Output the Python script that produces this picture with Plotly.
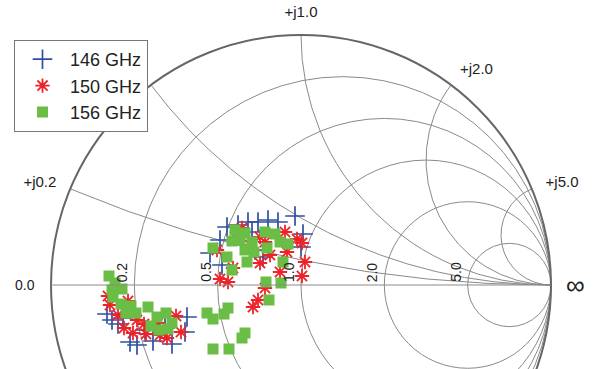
import numpy as np
import plotly.graph_objects as go

# Reflection coefficient readings (real, imag) for each frequency
g146_re = [-0.776, -0.756, -0.732, -0.712, -0.684, -0.656, -0.592, -0.516, -0.464, -0.456, -0.624, -0.544,
           -0.364, -0.324, -0.296, -0.252, -0.212, -0.172, -0.132, -0.092, -0.024, 0.008, -0.152, -0.196,
           0.000, -0.316, -0.184]
g146_im = [-0.116, -0.140, -0.156, -0.132, -0.228, -0.240, -0.224, -0.236, -0.188, -0.128, -0.180, -0.172,
           0.128, 0.180, 0.232, 0.240, 0.252, 0.252, 0.260, 0.252, 0.276, 0.204, 0.112, 0.212,
           0.152, 0.080, 0.140]

g150_re = [-0.772, -0.764, -0.692, -0.708, -0.672, -0.628, -0.620, -0.572, -0.536, -0.500, -0.480, -0.732,
           -0.656, -0.564,
           -0.324, -0.292, -0.336, -0.264, -0.164, -0.164, -0.144, -0.172, -0.192, -0.084, -0.056, -0.064,
           -0.016, 0.004, 0.016, 0.004, -0.272, -0.144, -0.204, -0.236, -0.124]
g150_im = [-0.044, -0.080, -0.064, -0.172, -0.192, -0.156, -0.196, -0.152, -0.212, -0.124, -0.188, -0.120,
           -0.140, -0.200,
           0.024, 0.012, 0.140, 0.192, 0.192, 0.088, -0.012, -0.060, -0.088, 0.052, 0.132, 0.212,
           0.184, 0.168, 0.092, 0.036, 0.068, 0.172, 0.160, 0.228, 0.120]

g156_re = [-0.768, -0.744, -0.716, -0.752, -0.720, -0.680, -0.660, -0.700, -0.612, -0.576, -0.540, -0.516,
           -0.600, -0.568, -0.532, -0.756,
           -0.376, -0.352, -0.308, -0.292, -0.224, -0.236, -0.352, -0.288,
           -0.352, -0.296, -0.276, -0.264, -0.276, -0.224, -0.196, -0.224, -0.216, -0.188, -0.144, -0.104,
           -0.136, -0.084, -0.052, -0.072, -0.140, -0.080, -0.128, -0.244]
g156_im = [0.036, 0.008, -0.016, -0.048, -0.076, -0.084, -0.112, -0.112, -0.088, -0.128, -0.112, -0.152,
           -0.164, -0.180, -0.176, -0.020,
           -0.112, -0.136, -0.116, -0.092, -0.192, -0.212, -0.256, -0.256,
           0.148, 0.112, 0.060, 0.220, 0.176, 0.208, 0.172, 0.140, 0.092, 0.132, 0.212, 0.204,
           0.148, 0.172, 0.164, 0.092, 0.012, 0.008, -0.060, 0.180]

series_names = ["146 GHz", "150 GHz", "156 GHz"]
grid_vals = [0.2, 0.5, 1.0, 2.0, 5.0]
real_labels = ["0.2", "0.5", "1.0", "2.0", "5.0"]
left_label = "0.0"

TEXT = "#222222"
GRID = "#8a8a8a"


def to_z(re, im):
    g = np.array(re) + 1j * np.array(im)
    z = (1 + g) / (1 - g)
    return z.real, z.imag


fig = go.Figure()
r, x = to_z(g146_re, g146_im)
fig.add_trace(go.Scattersmith(real=r, imag=x, mode="markers", name=series_names[0],
                              marker=dict(symbol="cross-thin", size=14, color="#2f4fa0",
                                          line=dict(width=1.7, color="#2f4fa0"))))
r, x = to_z(g150_re, g150_im)
fig.add_trace(go.Scattersmith(real=r, imag=x, mode="markers", name=series_names[1],
                              marker=dict(symbol="asterisk-open", size=12, color="#ee2229",
                                          line=dict(width=1.8, color="#ee2229"))))
r, x = to_z(g156_re, g156_im)
fig.add_trace(go.Scattersmith(real=r, imag=x, mode="markers", name=series_names[2],
                              marker=dict(symbol="square", size=11, color="#6abd45",
                                          line=dict(width=0))))

# resistance-circle labels, placed just left of each circle's crossing on the real axis
annotations = []
for val, lab in zip(grid_vals, real_labels):
    gx = (val - 1) / (val + 1)
    annotations.append(dict(x=0.5 + gx / 2, y=0.5, xref="paper", yref="paper", text=lab,
                            showarrow=False, textangle=-90, xanchor="right", yanchor="bottom",
                            xshift=-2, yshift=1, font=dict(size=14, color=TEXT)))
annotations.append(dict(x=0, y=0.5, xref="paper", yref="paper", text=left_label, showarrow=False,
                        xanchor="right", yanchor="middle", xshift=-14, font=dict(size=14, color=TEXT)))

fig.update_layout(
    width=602, height=570,
    margin=dict(l=51, r=51, t=35, b=35),
    paper_bgcolor="white",
    font=dict(family="Liberation Sans, Arial, sans-serif", color=TEXT, size=14),
    smith=dict(
        domain=dict(x=[0, 1], y=[0, 1]),
        bgcolor="white",
        realaxis=dict(tickvals=grid_vals, showticklabels=False, showgrid=True, gridcolor=GRID,
                      gridwidth=1, showline=True, linecolor=GRID, ticks=""),
        imaginaryaxis=dict(tickvals=grid_vals, tickformat=".1f", tickprefix="+j", showgrid=True,
                           gridcolor=GRID, gridwidth=1, showline=True, linecolor="#666666",
                           linewidth=2, ticks="outside", ticklen=11, tickcolor="rgba(0,0,0,0)",
                           tickfont=dict(size=15, color=TEXT)),
    ),
    annotations=annotations,
    showlegend=True,
    legend=dict(x=-37 / 500, y=1 - 5 / 500, xanchor="left", yanchor="top",
                bordercolor="#777777", borderwidth=1, bgcolor="white", itemwidth=45,
                font=dict(size=18, color=TEXT)),
)

fig.write_html("out.html", config={"displayModeBar": False},
               post_script="document.body.style.margin='0';document.body.style.overflow='hidden';document.documentElement.style.overflow='hidden';")
